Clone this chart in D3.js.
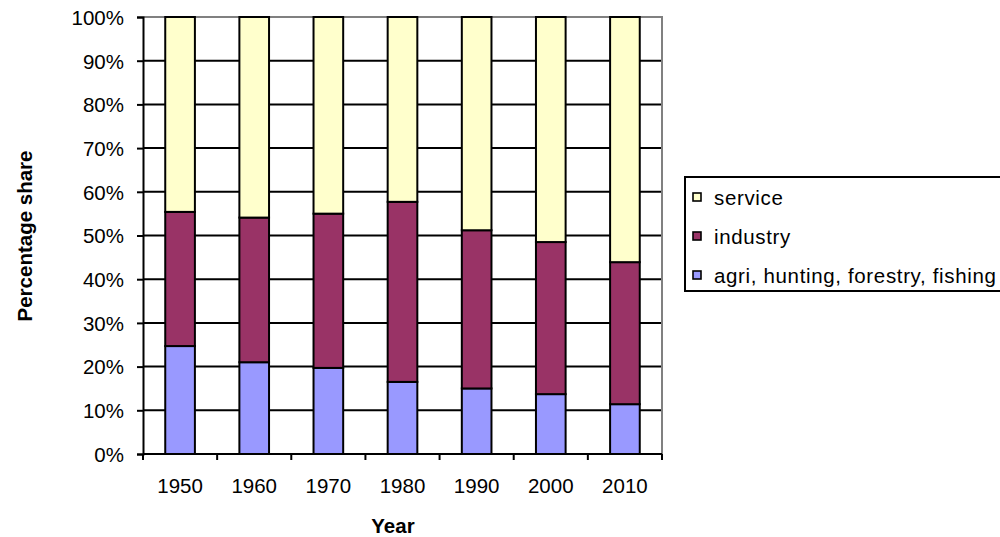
<!DOCTYPE html>
<html>
<head>
<meta charset="utf-8">
<script src="https://cdn.jsdelivr.net/npm/d3@7"></script>
<style>
  body { margin: 0; background: #fff; }
  svg { display: block; font-family: "Liberation Sans", Arial, sans-serif; }
</style>
</head>
<body>
<svg id="chart" width="1000" height="537"></svg>
<script>
// Sector shares of employment by decade (percent)
const years = ["1950", "1960", "1970", "1980", "1990", "2000", "2010"];
const agri = [24.7, 21.0, 19.7, 16.5, 15.0, 13.7, 11.4];
const industry = [30.7, 33.1, 35.3, 41.2, 36.2, 34.8, 32.5];
const service = [44.6, 45.9, 45.0, 42.3, 48.8, 51.5, 56.1];
const yTicks = [0, 10, 20, 30, 40, 50, 60, 70, 80, 90, 100];

const seriesNames = ["agri", "industry", "service"];
const seriesLabels = {
  agri: "agri, hunting, forestry, fishing",
  industry: "industry",
  service: "service"
};
const colors = { agri: "#9999FF", industry: "#993366", service: "#FFFFCC" };

const rows = years.map((y, i) => ({
  year: y, agri: agri[i], industry: industry[i], service: service[i]
}));
// normalise each year to 100%
rows.forEach(r => {
  const t = r.agri + r.industry + r.service;
  seriesNames.forEach(k => r[k] = r[k] / t * 100);
});

const svg = d3.select("#chart");
const plotL = 143, plotR = 662, plotT = 17, plotB = 454;
const fontSize = 20.5;

const x = d3.scaleBand().domain(years).range([plotL, plotR]).paddingInner(0.6).paddingOuter(0.3);
const xCat = d3.scaleBand().domain(years).range([plotL, plotR]);
const y = d3.scaleLinear().domain([0, 100]).range([plotB, plotT]);

// gridlines
svg.append("g").selectAll("line")
  .data(yTicks.filter(t => t > 0 && t < 100))
  .join("line")
  .attr("x1", plotL).attr("x2", plotR)
  .attr("y1", d => y(d)).attr("y2", d => y(d))
  .attr("stroke", "#000").attr("stroke-width", 2);

// plot border (top and right)
svg.append("path")
  .attr("d", `M${plotL},${y(100)}H${plotR}V${plotB}`)
  .attr("fill", "none").attr("stroke", "#808080").attr("stroke-width", 2);

// stacked bars
const stack = d3.stack().keys(seriesNames)(rows);
svg.append("g").selectAll("g")
  .data(stack)
  .join("g")
  .attr("fill", d => colors[d.key])
  .selectAll("rect")
  .data(d => d)
  .join("rect")
  .attr("x", d => x(d.data.year))
  .attr("width", x.bandwidth())
  .attr("y", d => y(d[1]))
  .attr("height", d => y(d[0]) - y(d[1]))
  .attr("stroke", "#000").attr("stroke-width", 2);

// y axis
const yAxis = svg.append("g")
  .attr("transform", `translate(${plotL},0)`)
  .call(d3.axisLeft(y).tickValues(yTicks).tickFormat(d => d + "%").tickSize(6).tickPadding(13));
yAxis.select(".domain").attr("stroke", "#000").attr("stroke-width", 2);
yAxis.selectAll(".tick line").attr("stroke", "#000").attr("stroke-width", 2);
yAxis.selectAll("text").attr("font-size", fontSize).attr("fill", "#000")
  .attr("dy", "0.36em")
  .attr("font-family", "Liberation Sans, Arial, sans-serif");

// x axis: ticks sit between categories
const xAxisG = svg.append("g").attr("transform", `translate(0,${plotB})`);
xAxisG.append("line").attr("x1", plotL).attr("x2", plotR)
  .attr("stroke", "#000").attr("stroke-width", 2);
const boundaries = years.map(yv => xCat(yv)).concat([plotR]);
xAxisG.selectAll("line.tk").data(boundaries).join("line").attr("class", "tk")
  .attr("x1", d => d).attr("x2", d => d).attr("y1", 0).attr("y2", 6)
  .attr("stroke", "#000").attr("stroke-width", 2);
xAxisG.selectAll("text").data(years).join("text")
  .attr("x", d => xCat(d) + xCat.bandwidth() / 2)
  .attr("y", 39)
  .attr("text-anchor", "middle")
  .attr("font-size", fontSize).attr("fill", "#000")
  .text(d => d);

// axis titles
svg.append("text")
  .attr("x", 393).attr("y", 533)
  .attr("text-anchor", "middle")
  .attr("font-size", fontSize).attr("font-weight", "bold")
  .text("Year");
svg.append("text")
  .attr("transform", `translate(32,236) rotate(-90)`)
  .attr("text-anchor", "middle")
  .attr("font-size", fontSize).attr("font-weight", "bold")
  .text("Percentage share");

// legend
const legend = svg.append("g");
legend.append("rect")
  .attr("x", 685).attr("y", 177).attr("width", 330).attr("height", 114)
  .attr("fill", "#fff").attr("stroke", "#000").attr("stroke-width", 2);
const legendOrder = ["service", "industry", "agri"];
const ly = d3.scalePoint().domain(legendOrder).range([197, 275]);
const items = legend.selectAll("g.item").data(legendOrder).join("g").attr("class", "item")
  .attr("transform", d => `translate(0,${ly(d)})`);
items.append("rect")
  .attr("x", 693).attr("y", -4).attr("width", 8).attr("height", 8)
  .attr("fill", d => colors[d]).attr("stroke", "#000").attr("stroke-width", 1.6);
items.append("text")
  .attr("x", 714).attr("y", 8)
  .attr("font-size", fontSize).attr("fill", "#000")
  .attr("letter-spacing", 0.65)
  .text(d => seriesLabels[d]);
</script>
</body>
</html>
